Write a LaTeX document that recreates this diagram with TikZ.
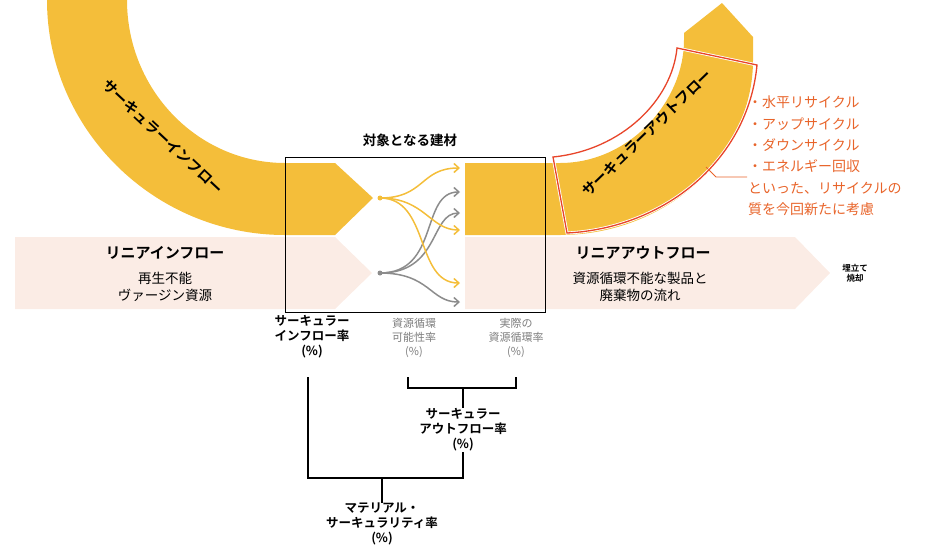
\documentclass[tikz,border=0pt]{standalone}
\usepackage{fontspec}
\setmainfont{Noto Sans CJK JP}
\newfontfamily\jpb{Noto Sans CJK JP Bold}
\usetikzlibrary{arrows.meta}
\definecolor{yel}{HTML}{F4BE3A}
\definecolor{pnk}{HTML}{FBECE5}
\definecolor{gry}{HTML}{8C8C8C}
\definecolor{org}{HTML}{E8642A}
\definecolor{rd}{HTML}{E8452A}
\begin{document}
\begin{tikzpicture}[x=1pt,y=-1pt,
  bt/.style={font=\jpb\fontsize{12.5}{15}\selectfont,align=center,inner sep=0pt},
  nt/.style={font=\fontsize{13.5}{17}\selectfont,align=center,inner sep=0pt},
  st/.style={font=\fontsize{11}{14}\selectfont,align=center,inner sep=0pt,text=gry!90!black},
  ya/.style={yel,line width=1.5pt,-{Straight Barb[length=5pt,width=9pt]}},
  ga/.style={gry,line width=1.5pt,-{Straight Barb[length=5pt,width=9pt]}},
  br/.style={black,line width=1.2pt}]
\useasboundingbox (0,0) rectangle (950,555);
% pink bands
\fill[pnk] (15,237) -- (335,237) -- (372,273) -- (335,309) -- (15,309) -- cycle;
\fill[pnk] (465,237) -- (795,237) -- (830,273) -- (795,309) -- (465,309) -- cycle;
% left yellow arc
\fill[yel] (47,0) .. controls (47,129) and (154,235) .. (285,235) -- (335,235) -- (373,198) -- (335,163) -- (285,163)
  .. controls (198,163) and (127,90) .. (127,0) -- cycle;
% right yellow arc
\fill[yel] (465,163) -- (560,163) .. controls (629,163) and (684,102) .. (684,40) -- (684,33) -- (722,3) -- (753,37) -- (753,60) .. controls (753,156) and (666,235) .. (560,235) -- (465,235) -- cycle;
% red box
\draw[white,line width=3pt] (553,157) .. controls (622,150) and (672,100) .. (677,48) -- (757,65) .. controls (748,160) and (665,228) .. (567,233) -- cycle;
\draw[rd,line width=1.3pt] (553,157) .. controls (622,150) and (672,100) .. (677,48) -- (757,65) .. controls (748,160) and (665,228) .. (567,233) -- cycle;
\coordinate (l1) at (706,167); \coordinate (l2) at (716,177); \coordinate (l3) at (747,177);
\draw[org,line width=0.8pt] (l1) -- (l2) -- (l3);
% center box
\node[draw,line width=1.2pt,minimum width=260pt,minimum height=155pt,anchor=north west,inner sep=0pt] (box) at (285,157) {};
\node[bt,font=\jpb\fontsize{13.5}{15}\selectfont] (title) at (410,140) {対象となる建材};
% arrows
\fill[yel] (380,198) circle (2.5pt) coordinate (yd);
\fill[gry] (380,273) circle (2.5pt) coordinate (gd);
\coordinate (ye1) at (460,168); \coordinate (ye2) at (460,230); \coordinate (ye3) at (460,283);
\coordinate (ge1) at (460,192); \coordinate (ge2) at (460,213); \coordinate (ge3) at (460,302);
\draw[ga] (gd) .. controls (440,273) and (420,192) .. (ge1);
\draw[ga] (gd) .. controls (440,273) and (430,213) .. (ge2);
\draw[ga] (gd) .. controls (430,273) and (430,302) .. (ge3);
\draw[ya] (yd) .. controls (425,198) and (420,168) .. (ye1);
\draw[ya] (yd) .. controls (425,198) and (430,230) .. (ye2);
\draw[ya] (yd) .. controls (430,198) and (415,283) .. (ye3);
% texts on bands
\node[bt,font=\jpb\fontsize{14.5}{15}\selectfont,rotate=-43] (cin) at (163,137) {サーキュラーインフロー};
\node[bt,font=\jpb\fontsize{14.5}{15}\selectfont,rotate=44] (cout) at (647,133) {サーキュラーアウトフロー};
\node[bt,font=\jpb\fontsize{15}{17}\selectfont] (lin) at (165,253) {リニアインフロー};
\node[nt] (lin2) at (165,287) {再生不能\\ヴァージン資源};
\node[bt,font=\jpb\fontsize{15}{17}\selectfont] (lout) at (643,253) {リニアアウトフロー};
\node[nt] (lout2) at (640,287) {資源循環不能な製品と\\廃棄物の流れ};
\node[bt,font=\jpb\fontsize{8.5}{10}\selectfont] (land) at (855,273) {埋立て\\焼却};
\node[font=\fontsize{14}{21.3}\selectfont,text=org,align=left,anchor=north west,inner sep=0pt] (olist) at (748,96)
 {・水平リサイクル\\・アップサイクル\\・ダウンサイクル\\・エネルギー回収\\といった、リサイクルの\\質を今回新たに考慮};
% rate labels
\node[bt] (cir) at (312,337) {サーキュラー\\インフロー率\\(\%)};
\node[st] (rp) at (414,338) {資源循環\\可能性率\\(\%)};
\node[st] (ar) at (516,338) {実際の\\資源循環率\\(\%)};
\node[bt] (cor) at (463,430) {サーキュラー\\アウトフロー率\\(\%)};
\node[bt] (mcr) at (382,524) {マテリアル・\\サーキュラリティ率\\(\%)};
% brackets
\coordinate (b1) at (408,377); \coordinate (b2) at (408,388); \coordinate (b3) at (516,388); \coordinate (b4) at (516,377);
\draw[br] (b1) -- (b2) -- (b3) -- (b4);
\draw[br] (463,388) -- (cor.north);
\coordinate (c1) at (308,377); \coordinate (c2) at (308,478); \coordinate (c3) at (463,478);
\draw[br] (c1) -- (c2) -- (c3) -- (cor.south);
\draw[br] (382,478) -- (mcr.north);
\end{tikzpicture}
\end{document}
